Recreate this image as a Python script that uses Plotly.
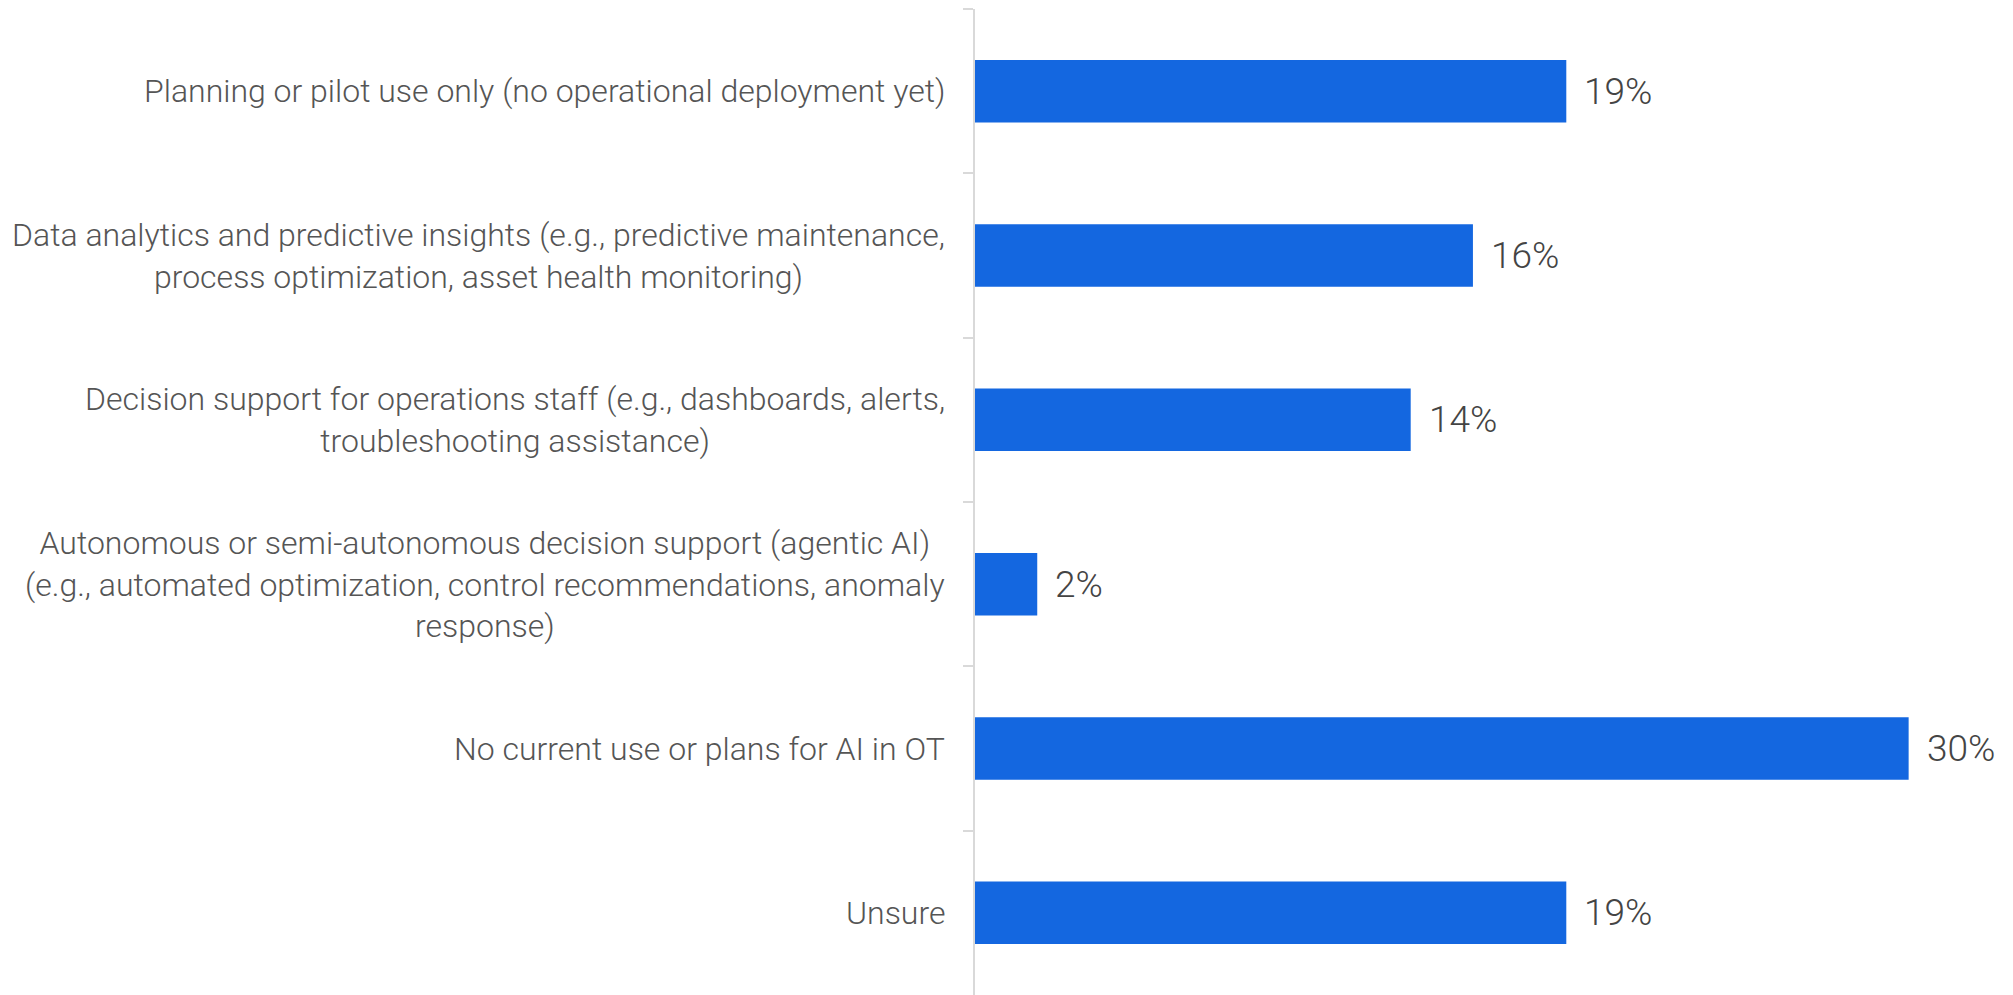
import plotly.graph_objects as go

categories = [
    "Planning or pilot use only (no operational deployment yet)",
    "Data analytics and predictive insights (e.g., predictive maintenance,<br>process optimization, asset health monitoring)",
    "Decision support for operations staff (e.g., dashboards, alerts,<br>troubleshooting assistance)",
    "Autonomous or semi-autonomous decision support (agentic AI)<br>(e.g., automated optimization, control recommendations, anomaly<br>response)",
    "No current use or plans for AI in OT",
    "Unsure",
]
values = [19, 16, 14, 2, 30, 19]
value_labels = ["19%", "16%", "14%", "2%", "30%", "19%"]

BAR_COLOR = "#1467E0"
TEXT_COLOR = "#555555"
VALUE_COLOR = "#444444"
AXIS_COLOR = "#d9d9d9"
FONT = "Roboto"

fig = go.Figure(
    go.Bar(
        x=values,
        y=categories,
        orientation="h",
        marker=dict(color=BAR_COLOR, line=dict(width=0)),
        hoverinfo="skip",
    )
)

annotations = []
for cat, lab, v in zip(categories, value_labels, values):
    annotations.append(dict(
        x=0, xref="paper", y=cat, yref="y",
        text=cat, showarrow=False, xanchor="right", yanchor="middle",
        align="center", xshift=-28,
        font=dict(family=FONT, size=32, color=TEXT_COLOR, weight=300),
    ))
    annotations.append(dict(
        x=v, xref="x", y=cat, yref="y",
        text=lab, showarrow=False, xanchor="left", yanchor="middle",
        xshift=16,
        font=dict(family=FONT, size=37, color=VALUE_COLOR, weight=300),
    ))

fig.update_layout(
    width=2005, height=987,
    margin=dict(l=967, r=11, t=1, b=0),
    paper_bgcolor="white", plot_bgcolor="white",
    bargap=0.62,
    showlegend=False,
    annotations=annotations,
    xaxis=dict(range=[0, 33], visible=False, fixedrange=True),
    yaxis=dict(
        type="category", autorange="reversed",
        showticklabels=False, showgrid=False, zeroline=False,
        showline=True, linecolor=AXIS_COLOR, linewidth=2,
        ticks="outside", tickson="boundaries", ticklen=10,
        tickcolor=AXIS_COLOR, tickwidth=2,
    ),
)

fig.write_html("out.html")
